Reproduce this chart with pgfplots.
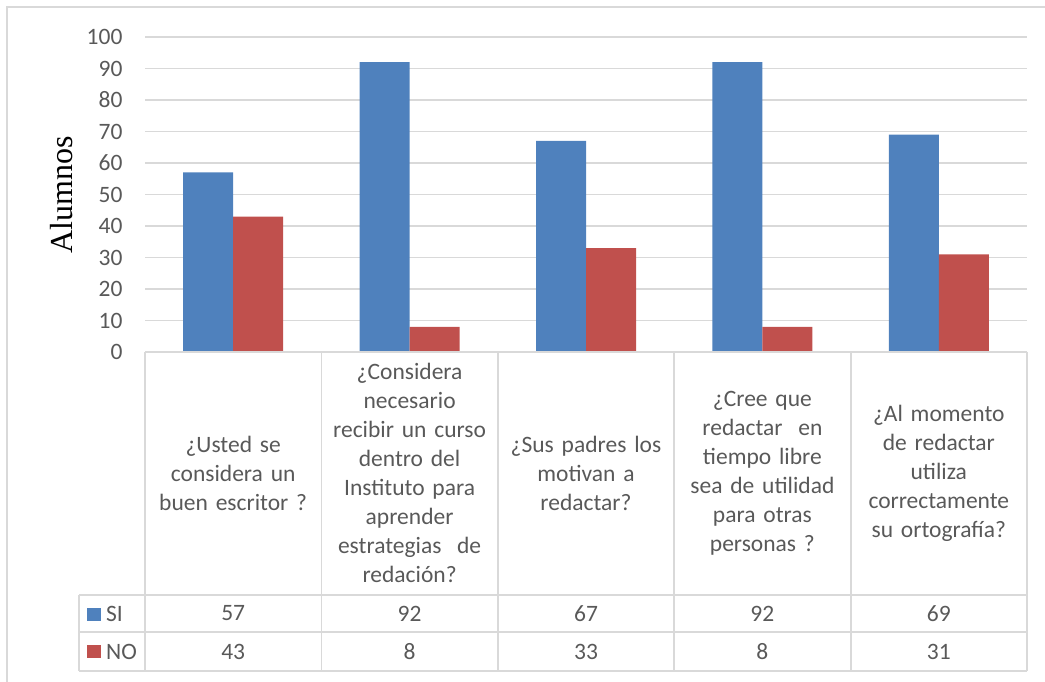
\documentclass[border=0pt]{standalone}
\usepackage{pgfplots}
\pgfplotsset{compat=1.18}
\usepackage{pgfplotstable}
\usepackage{fontspec}
\setmainfont{Carlito}
\newfontfamily\seriffont{Liberation Serif}
\definecolor{siblue}{HTML}{4F81BD}
\definecolor{nored}{HTML}{C0504D}
\definecolor{gridgray}{HTML}{D9D9D9}
\definecolor{txtgray}{HTML}{595959}
\newcommand\cf{\fontsize{23.5}{29}\selectfont}

\pgfplotstableread{
x si no
0 57 43
1 92 8
2 67 33
3 92 8
4 69 31
}\datatable

\begin{document}
\begin{tikzpicture}
\useasboundingbox (0,0) rectangle (1045pt,682pt);
\draw[gridgray, line width=1.8pt] (7pt,0pt) -- (7pt,675pt) -- (1045pt,675pt);
\begin{axis}[
  at={(145pt,330pt)}, anchor=south west, scale only axis,
  width=882pt, height=315pt,
  xmin=-0.5, xmax=4.5, ymin=0, ymax=100,
  ytick distance=10, xtick={0,1,2,3,4},
  xticklabels={
    {¿Usted se\\considera un\\buen escritor ?},
    {¿Considera\\necesario\\recibir un curso\\dentro del\\Instituto para\\aprender\\estrategias\ \ de\\redación?},
    {¿Sus padres los\\motivan a\\redactar?},
    {¿Cree que\\redactar\ \ en\\tiempo libre\\sea de utilidad\\para otras\\personas ?},
    {¿Al momento\\de redactar\\utiliza\\correctamente\\su ortografía?}},
  ybar=0pt, bar width=50pt,
  axis line style={draw=none},
  major tick length=0pt,
  ymajorgrids, grid style={gridgray, line width=1.8pt},
  tick label style={font=\cf, text=txtgray},
  /pgf/number format/assume math mode=true,
  yticklabel style={xshift=-19pt},
  xticklabel style={anchor=center, yshift=-121pt, text width=175pt, align=center},
  ylabel={Alumnos},
  ylabel style={at={(axis description cs:-0.095,0.498)}, anchor=center,
    font=\seriffont\fontsize{32}{38}\selectfont, text=black},
  clip=false,
]
\addplot[fill=siblue, draw=none] table[x=x,y=si]{\datatable};
\addplot[fill=nored, draw=none] table[x=x,y=no]{\datatable};
\end{axis}
% data table grid
\begin{scope}[gridgray, line width=1.8pt]
\draw (145pt,330pt) -- (1027pt,330pt);
\draw (79pt,87pt) -- (1027pt,87pt);
\draw (79pt,50pt) -- (1027pt,50pt);
\draw (79pt,11pt) -- (1027pt,11pt);
\draw (79pt,87pt) -- (79pt,11pt);
\foreach \xx in {145,321.4,497.8,674.2,850.6,1027}{
  \draw (\xx pt,330pt) -- (\xx pt,11pt);
}
\end{scope}
% legend keys
\fill[siblue] (87pt,61pt) rectangle (101pt,74pt);
\fill[nored] (87pt,24pt) rectangle (101pt,37pt);
\node[anchor=west, inner sep=0pt, font=\cf, text=txtgray] at (106pt,68pt) {SI};
\node[anchor=west, inner sep=0pt, font=\cf, text=txtgray] at (106pt,30.5pt) {NO};
% values
\foreach \i in {0,...,4}{
  \pgfmathsetmacro\cx{145+176.4*\i+88.2}
  \pgfplotstablegetelem{\i}{si}\of\datatable
  \node[font=\cf, text=txtgray, inner sep=0pt] at (\cx pt,68.5pt) {\pgfplotsretval};
  \pgfplotstablegetelem{\i}{no}\of\datatable
  \node[font=\cf, text=txtgray, inner sep=0pt] at (\cx pt,30.5pt) {\pgfplotsretval};
}
\end{tikzpicture}
\end{document}
